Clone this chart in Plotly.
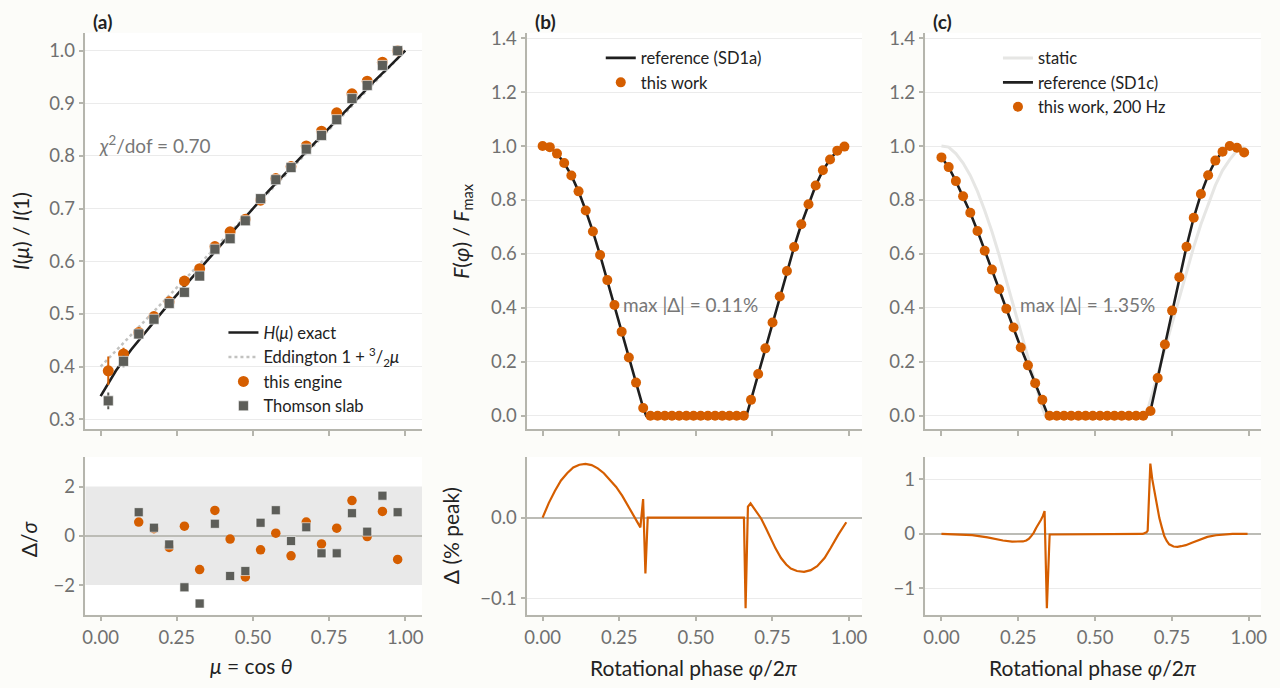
import plotly.graph_objects as go

ORANGE = '#d55e00'
SQGRAY = '#5d5e59'
BLACK = '#1f1f1f'
SPINE = '#b5b5ad'
GRID = '#ebebeb'
TICKC = '#707070'
FONT = 'Lato'

W, H = 1280, 688


def px(x):
    return x / W


def py(y):
    return 1 - y / H


# ---- panel (a): limb darkening ----
h_mu = [0.0, 0.05, 0.1, 0.15, 0.2, 0.225, 0.25, 0.3, 0.35, 0.4, 0.45, 0.5, 0.525,
        0.55, 0.6, 0.625, 0.65, 0.7, 0.725, 0.75, 0.8, 0.85, 0.9, 0.95, 1.0]
h_val = [0.344, 0.392, 0.432, 0.468, 0.503, 0.520, 0.536, 0.569, 0.602, 0.635, 0.668,
         0.701, 0.718, 0.733, 0.763, 0.778, 0.793, 0.824, 0.839, 0.854, 0.884, 0.913,
         0.943, 0.971, 1.0]
edd_mu = [0.0, 1.0]
edd_val = [0.40, 1.0]

mu_bins = [0.025, 0.075, 0.125, 0.175, 0.225, 0.275, 0.325, 0.375, 0.425, 0.475,
           0.525, 0.575, 0.625, 0.675, 0.725, 0.775, 0.825, 0.875, 0.925, 0.975]
eng_val = [0.392, 0.424, 0.465, 0.495, 0.523, 0.5625, 0.586, 0.628, 0.656, 0.680,
           0.716, 0.757, 0.780, 0.819, 0.847, 0.882, 0.918, 0.942, 0.978, 1.0]
eng_err = [0.027, 0.012, 0.008, 0.007, 0.007, 0.006, 0.006, 0.006, 0.006, 0.006,
           0.006, 0.006, 0.006, 0.006, 0.006, 0.006, 0.006, 0.006, 0.006, 0.004]
slab_val = [0.335, 0.410, 0.462, 0.490, 0.520, 0.541, 0.572, 0.623, 0.643, 0.677,
            0.719, 0.755, 0.778, 0.813, 0.839, 0.869, 0.909, 0.934, 0.972, 1.0]
slab_err = [0.016, 0.011, 0.006, 0.006, 0.006, 0.006, 0.006, 0.006, 0.006, 0.006,
            0.006, 0.006, 0.006, 0.006, 0.006, 0.006, 0.006, 0.006, 0.006, 0.004]

res_mu = mu_bins[2:]
eng_res = [0.56, 0.29, -0.47, 0.39, -1.37, 1.03, -0.13, -1.67, -0.57, 0.11, -0.81,
           0.56, -0.33, 0.31, 1.43, -0.03, 0.99, -0.96]
slab_res = [0.96, 0.33, -0.35, -2.09, -2.75, 0.49, -1.63, -1.43, 0.53, 1.04, -0.21,
            0.35, -0.71, -0.71, 0.92, 0.17, 1.63, 0.96]

# ---- panels (b), (c): light curves ----
phase = [0.0, 0.0235, 0.0469, 0.0704, 0.0938, 0.1173, 0.1407, 0.1642, 0.1876, 0.2111,
         0.2345, 0.2580, 0.2814, 0.3049, 0.3283, 0.3518, 0.3752, 0.3987, 0.4221, 0.4456,
         0.4690, 0.4925, 0.5159, 0.5394, 0.5628, 0.5863, 0.6097, 0.6332, 0.6566, 0.6801,
         0.7035, 0.7270, 0.7504, 0.7739, 0.7973, 0.8208, 0.8442, 0.8677, 0.8911, 0.9146,
         0.9380, 0.9615, 0.9849]
flux_b = [1.0, 0.996, 0.972, 0.937, 0.891, 0.832, 0.761, 0.683, 0.596, 0.503,
          0.411, 0.312, 0.216, 0.123, 0.029, 0, 0, 0, 0, 0,
          0, 0, 0, 0, 0, 0, 0, 0, 0, 0.059,
          0.155, 0.250, 0.346, 0.442, 0.537, 0.626, 0.710, 0.784, 0.854, 0.910,
          0.950, 0.983, 0.998]
flux_c = [0.958, 0.922, 0.870, 0.814, 0.753, 0.685, 0.612, 0.542, 0.469, 0.397,
          0.327, 0.253, 0.187, 0.121, 0.059, 0, 0, 0, 0, 0,
          0, 0, 0, 0, 0, 0, 0, 0, 0, 0.018,
          0.140, 0.264, 0.390, 0.514, 0.627, 0.734, 0.822, 0.892, 0.946, 0.979,
          1.0, 0.994, 0.976]

ref_b_phase = phase[:15] + [0.338] + phase[15:29] + [0.665] + phase[29:]
ref_b_flux = flux_b[:15] + [0.0] + flux_b[15:29] + [0.0] + flux_b[29:]
ref_c_phase = phase[:15] + [0.347] + phase[15:29] + [0.668] + phase[29:]
ref_c_flux = flux_c[:15] + [0.0] + flux_c[15:29] + [0.0] + flux_c[29:]

res_b_phase = [0.0, 0.02, 0.04, 0.06, 0.08, 0.10, 0.12, 0.14, 0.16, 0.18, 0.20, 0.22,
               0.24, 0.26, 0.28, 0.30, 0.319, 0.328, 0.3355, 0.343, 0.657, 0.6624,
               0.670, 0.6786, 0.69, 0.70, 0.713, 0.73, 0.745, 0.76, 0.778, 0.795,
               0.81, 0.83, 0.853, 0.875, 0.896, 0.92, 0.94, 0.965, 0.991]
res_b_val = [0.0, 0.018, 0.033, 0.046, 0.055, 0.062, 0.0655, 0.0665, 0.065, 0.061,
             0.055, 0.047, 0.038, 0.027, 0.014, 0.001, -0.012, 0.023, -0.069, 0.0,
             0.0, -0.112, 0.0135, 0.0176, 0.011, 0.006, -0.001, -0.014, -0.027,
             -0.038, -0.050, -0.058, -0.063, -0.066, -0.067, -0.065, -0.060, -0.050,
             -0.0376, -0.021, -0.0057]

res_c_phase = [0.0, 0.05, 0.10, 0.15, 0.20, 0.23, 0.25, 0.265, 0.276, 0.285, 0.292,
               0.300, 0.308, 0.316, 0.324, 0.330, 0.3355, 0.343, 0.352, 0.655, 0.667,
               0.671, 0.6796, 0.686, 0.6925, 0.70, 0.709, 0.717, 0.725, 0.733, 0.741,
               0.755, 0.768, 0.78, 0.795, 0.815, 0.839, 0.865, 0.893, 0.92, 0.947,
               0.996]
res_c_val = [0.0, -0.006, -0.022, -0.062, -0.12, -0.14, -0.145, -0.138, -0.12, -0.085,
             -0.04, 0.02, 0.11, 0.18, 0.26, 0.33, 0.42, -1.36, -0.01, 0.0, 0.03,
             0.06, 1.29, 1.0, 0.78, 0.52, 0.29, 0.12, -0.04, -0.13, -0.19,
             -0.23, -0.236, -0.225, -0.206, -0.16, -0.103, -0.055, -0.024, -0.008, 0.0,
             0.0]

fig = go.Figure()

# (a) top
fig.add_trace(go.Scatter(x=edd_mu, y=edd_val, mode='lines',
                         name='Eddington 1 + <sup>3</sup>/<sub>2</sub><i>μ</i>',
                         line=dict(color='#c2c2c0', width=2.5, dash='dot'),
                         xaxis='x', yaxis='y', legend='legend', legendrank=2))
fig.add_trace(go.Scatter(x=h_mu, y=h_val, mode='lines', name='<i>H</i>(<i>μ</i>) exact',
                         line=dict(color=BLACK, width=2.6), xaxis='x', yaxis='y',
                         legend='legend', legendrank=1))
fig.add_trace(go.Scatter(x=mu_bins, y=eng_val, mode='markers', name='this engine',
                         marker=dict(color=ORANGE, size=11),
                         error_y=dict(type='data', array=eng_err, color=ORANGE, thickness=2, width=0),
                         xaxis='x', yaxis='y', legend='legend', legendrank=3))
fig.add_trace(go.Scatter(x=mu_bins, y=slab_val, mode='markers', name='Thomson slab',
                         marker=dict(color=SQGRAY, size=10, symbol='square',
                                     line=dict(color='white', width=0.6)),
                         error_y=dict(type='data', array=slab_err, color=SQGRAY, thickness=2, width=0),
                         xaxis='x', yaxis='y', legend='legend', legendrank=4))

# (a) bottom
fig.add_trace(go.Scatter(x=res_mu, y=eng_res, mode='markers', showlegend=False,
                         marker=dict(color=ORANGE, size=9.5), xaxis='x4', yaxis='y4'))
fig.add_trace(go.Scatter(x=res_mu, y=slab_res, mode='markers', showlegend=False,
                         marker=dict(color=SQGRAY, size=9, symbol='square',
                                     line=dict(color='white', width=0.6)),
                         xaxis='x4', yaxis='y4'))

# (b) top
fig.add_trace(go.Scatter(x=ref_b_phase, y=ref_b_flux, mode='lines', name='reference (SD1a)',
                         line=dict(color=BLACK, width=2.6), xaxis='x2', yaxis='y2', legend='legend2'))
fig.add_trace(go.Scatter(x=phase, y=flux_b, mode='markers', name='this work',
                         marker=dict(color=ORANGE, size=10), xaxis='x2', yaxis='y2', legend='legend2'))
# (b) bottom
fig.add_trace(go.Scatter(x=res_b_phase, y=res_b_val, mode='lines', showlegend=False,
                         line=dict(color=ORANGE, width=2.2), xaxis='x5', yaxis='y5'))

# (c) top
fig.add_trace(go.Scatter(x=ref_b_phase, y=ref_b_flux, mode='lines', name='static',
                         line=dict(color='#e6e6e4', width=3), xaxis='x3', yaxis='y3', legend='legend3'))
fig.add_trace(go.Scatter(x=ref_c_phase, y=ref_c_flux, mode='lines', name='reference (SD1c)',
                         line=dict(color=BLACK, width=2.6), xaxis='x3', yaxis='y3', legend='legend3'))
fig.add_trace(go.Scatter(x=phase, y=flux_c, mode='markers', name='this work, 200 Hz',
                         marker=dict(color=ORANGE, size=10), xaxis='x3', yaxis='y3', legend='legend3'))
# (c) bottom
fig.add_trace(go.Scatter(x=res_c_phase, y=res_c_val, mode='lines', showlegend=False,
                         line=dict(color=ORANGE, width=2.2), xaxis='x6', yaxis='y6'))

tickfont = dict(family=FONT, size=18.5, color=TICKC)
common = dict(showline=True, linecolor=SPINE, linewidth=1.5, ticks='outside', ticklen=5,
              tickwidth=1.5, tickcolor=SPINE, tickfont=tickfont, mirror=False)

xa = [83, 422]
xb = [528, 865]
xc = [929, 1267]
top = [py(427), py(27)]
bot = [py(614), py(455)]
xticks = [0, 0.25, 0.5, 0.75, 1.0]
xtext = ['0.00', '0.25', '0.50', '0.75', '1.00']

layout_axes = {}
for name, dom, rng, anchor in [('xaxis', xa, [-0.05, 1.055], 'y'),
                               ('xaxis2', xb, [-0.05, 1.042], 'y2'),
                               ('xaxis3', xc, [-0.052, 1.04], 'y3')]:
    layout_axes[name] = dict(common, domain=[px(dom[0]), px(dom[1])], range=rng, anchor=anchor,
                             tickvals=xticks, showticklabels=False, showgrid=False, zeroline=False)
for name, dom, rng, anchor in [('xaxis4', xa, [-0.05, 1.055], 'y4'),
                               ('xaxis5', xb, [-0.05, 1.042], 'y5'),
                               ('xaxis6', xc, [-0.052, 1.04], 'y6')]:
    layout_axes[name] = dict(common, domain=[px(dom[0]), px(dom[1])], range=rng, anchor=anchor,
                             tickvals=xticks, ticktext=xtext, showgrid=False, zeroline=False)

layout_axes['yaxis'] = dict(common, domain=top, range=[0.281, 1.034], anchor='x',
                            tickvals=[0.3, 0.4, 0.5, 0.6, 0.7, 0.8, 0.9, 1.0],
                            ticktext=['0.3', '0.4', '0.5', '0.6', '0.7', '0.8', '0.9', '1.0'],
                            showgrid=True, gridcolor=GRID, zeroline=False)
for name, anchor in [('yaxis2', 'x2'), ('yaxis3', 'x3')]:
    layout_axes[name] = dict(common, domain=top, range=[-0.05, 1.42], anchor=anchor,
                             tickvals=[0, 0.2, 0.4, 0.6, 0.8, 1.0, 1.2, 1.4],
                             ticktext=['0.0', '0.2', '0.4', '0.6', '0.8', '1.0', '1.2', '1.4'],
                             showgrid=True, gridcolor=GRID, zeroline=False)
zl = dict(zeroline=True, zerolinecolor='#bcbcb6', zerolinewidth=1.8)
layout_axes['yaxis4'] = dict(common, **zl, domain=bot, range=[-3.2, 3.2], anchor='x4',
                             tickvals=[-2, 0, 2], ticktext=['−2', '0', '2'],
                             showgrid=False)
layout_axes['yaxis5'] = dict(common, **zl, domain=bot, range=[-0.12, 0.075], anchor='x5',
                             tickvals=[-0.1, 0.0], ticktext=['−0.1', '0.0'],
                             showgrid=True, gridcolor=GRID)
layout_axes['yaxis6'] = dict(common, **zl, domain=bot, range=[-1.48, 1.41], anchor='x6',
                             tickvals=[-1, 0, 1], ticktext=['−1', '0', '1'],
                             showgrid=True, gridcolor=GRID)

legfont = dict(family=FONT, size=16.5, color='#222222')
leg = dict(bgcolor='rgba(0,0,0,0)', font=legfont, xanchor='left', yanchor='top',
           itemwidth=30, tracegroupgap=0)

title_font = dict(family=FONT, size=21, color='#222222')
lab_font = dict(family=FONT, size=19, color='#222222')
note_font = dict(family=FONT, size=19, color='#777777')
annots = [
    dict(text='<b>(a)</b>', x=px(89), y=py(16), font=lab_font),
    dict(text='<b>(b)</b>', x=px(534), y=py(16), font=lab_font),
    dict(text='<b>(c)</b>', x=px(935), y=py(16), font=lab_font),
    dict(text='<i>χ</i><sup>2</sup>/dof = 0.70', x=px(95), y=py(140), font=note_font),
    dict(text='max |Δ| = 0.11%', x=px(622), y=py(301), font=note_font),
    dict(text='max |Δ| = 1.35%', x=px(1022), y=py(301), font=note_font),
    dict(text='<i>I</i>(<i>μ</i>) / <i>I</i>(1)', x=px(17), y=py(227), textangle=-90,
         xanchor='center', font=title_font),
    dict(text='Δ/<i>σ</i>', x=px(25), y=py(537), textangle=-90, xanchor='center', font=title_font),
    dict(text='<i>F</i>(<i>φ</i>) / <i>F</i><sub>max</sub>', x=px(462), y=py(227), textangle=-90,
         xanchor='center', font=title_font),
    dict(text='Δ (% peak)', x=px(451), y=py(534), textangle=-90, xanchor='center', font=title_font),
    dict(text='<i>μ</i> = cos <i>θ</i>', x=px(250), y=py(665), xanchor='center', font=title_font),
    dict(text='Rotational phase <i>φ</i>/2<i>π</i>', x=px(695), y=py(667), xanchor='center',
         font=title_font),
    dict(text='Rotational phase <i>φ</i>/2<i>π</i>', x=px(1097), y=py(667), xanchor='center',
         font=title_font),
]
for a in annots:
    a.setdefault('xanchor', 'left')
    a.update(xref='paper', yref='paper', yanchor='middle', showarrow=False)

fig.update_layout(
    width=W, height=H,
    margin=dict(l=0, r=0, t=0, b=0),
    paper_bgcolor='#fcfcf9',
    plot_bgcolor='white',
    font=dict(family=FONT, color='#222222'),
    legend=dict(leg, x=px(222), y=py(312)),
    legend2=dict(leg, x=px(602), y=py(35)),
    legend3=dict(leg, x=px(1002), y=py(35)),
    annotations=annots,
    shapes=[dict(type='rect', xref='x4 domain', yref='y4', x0=0, x1=1, y0=-2, y1=2,
                 fillcolor='#e9e9e9', line=dict(width=0), layer='below')],
    **layout_axes,
)

fig.write_html('out.html', config={'displayModeBar': False},
               post_script="document.body.style.margin='0';document.body.style.overflow='hidden';")
